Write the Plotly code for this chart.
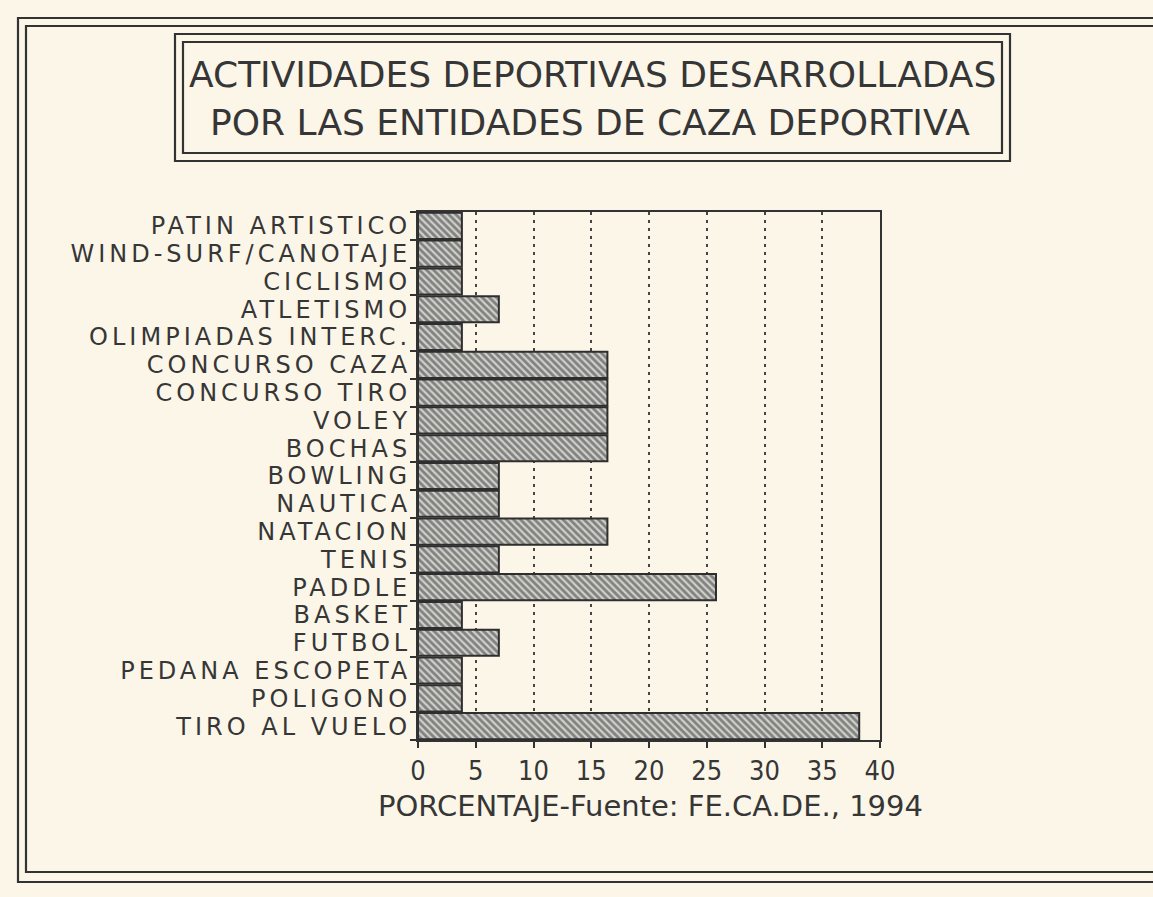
import plotly.graph_objects as go

# ---- data (top to bottom as in the reference) ----
categories = [
    "PATIN ARTISTICO", "WIND-SURF/CANOTAJE", "CICLISMO", "ATLETISMO",
    "OLIMPIADAS INTERC.", "CONCURSO CAZA", "CONCURSO TIRO", "VOLEY",
    "BOCHAS", "BOWLING", "NAUTICA", "NATACION", "TENIS", "PADDLE",
    "BASKET", "FUTBOL", "PEDANA ESCOPETA", "POLIGONO", "TIRO AL VUELO",
]
porcentaje = [
    3.8, 3.8, 3.8, 7.0,
    3.8, 16.4, 16.4, 16.4,
    16.4, 7.0, 7.0, 16.4, 7.0, 25.8,
    3.8, 7.0, 3.8, 3.8, 38.2,
]
tick_values = [0, 5, 10, 15, 20, 25, 30, 35, 40]
title_lines = ["ACTIVIDADES DEPORTIVAS DESARROLLADAS",
               "POR LAS ENTIDADES DE CAZA DEPORTIVA"]
axis_title = "PORCENTAJE-Fuente: FE.CA.DE., 1994"

# ---- layout geometry ----
W, H = 1153, 897
L, R, T, B = 418, 880, 212, 740  # plot area in pixels
PW, PH = R - L, B - T

def px(x):
    return (x - L) / PW

def py(y):
    return 1 - (y - T) / PH

INK = "#333333"
TXT = "#363636"
BG = "#fcf6e9"
FONT = "DejaVu Sans, Verdana, Arial, sans-serif"
NARROW = "Liberation Sans Narrow, DejaVu Sans Condensed, Arial Narrow, sans-serif"

fig = go.Figure()
fig.add_trace(go.Bar(
    x=porcentaje,
    y=categories,
    orientation="h",
    marker=dict(
        color="#c4c4c0",
        line=dict(color="#2e2e2e", width=2),
        pattern=dict(shape="\\", fgcolor="#333333", bgcolor="#cfcfcb",
                     size=5, solidity=0.55),
    ),
    hoverinfo="x+y",
))

shapes = []
# outer double frame
for (x0, y0, x1, y1) in [(18, 18, 1170, 882), (26, 26, 1170, 872)]:
    shapes.append(dict(type="rect", xref="paper", yref="paper",
                       x0=px(x0), x1=px(x1), y0=py(y0), y1=py(y1),
                       line=dict(color=INK, width=2.2), layer="below"))
# title double box
for (x0, y0, x1, y1) in [(175, 34, 1010, 161), (183, 42, 1002, 153)]:
    shapes.append(dict(type="rect", xref="paper", yref="paper",
                       x0=px(x0), x1=px(x1), y0=py(y0), y1=py(y1),
                       line=dict(color=INK, width=2.2), layer="below"))

annotations = [
    dict(text=title_lines[0], x=px(592), y=py(75), xref="paper", yref="paper",
         showarrow=False, xanchor="center", yanchor="middle",
         font=dict(family=FONT, size=36, color=TXT)),
    dict(text=title_lines[1], x=px(590), y=py(122), xref="paper", yref="paper",
         showarrow=False, xanchor="center", yanchor="middle",
         font=dict(family=FONT, size=36, color=TXT)),
    dict(text=axis_title, x=px(650), y=py(806), xref="paper", yref="paper",
         showarrow=False, xanchor="center", yanchor="middle",
         font=dict(family=FONT, size=29, color=TXT)),
]

# category labels in the reference are widely spaced
label_text = ['<span style="letter-spacing:4px">%s</span>' % c for c in categories]

fig.update_layout(
    width=W, height=H,
    margin=dict(l=L, r=W - R, t=T, b=H - B, pad=0),
    paper_bgcolor=BG, plot_bgcolor=BG,
    showlegend=False,
    bargap=0.06,
    shapes=shapes,
    annotations=annotations,
    font=dict(family=FONT, color=TXT),
)
fig.update_xaxes(
    range=[0, 40], tickmode="array", tickvals=tick_values,
    ticktext=[str(v) for v in tick_values],
    showgrid=True, gridcolor="#444444", griddash="3px,5px", gridwidth=2,
    showline=True, linecolor=INK, linewidth=2, mirror=True,
    ticks="outside", ticklen=6, tickcolor=INK, tickwidth=1.5,
    tickfont=dict(family=NARROW, size=27, color=TXT),
    zeroline=False, fixedrange=True,
)
fig.update_yaxes(
    type="category", categoryorder="array", categoryarray=categories,
    autorange="reversed",
    tickmode="array", tickvals=categories, ticktext=label_text,
    showline=True, linecolor=INK, linewidth=2, mirror=True,
    ticks="outside", tickson="boundaries", ticklen=6, tickcolor=INK, tickwidth=1.5,
    tickfont=dict(family=FONT, size=24, color=TXT),
    showgrid=False, fixedrange=True,
)

fig.write_html("out.html", config={"displayModeBar": False},
               post_script="document.body.style.margin='0';document.body.style.overflow='hidden';")
